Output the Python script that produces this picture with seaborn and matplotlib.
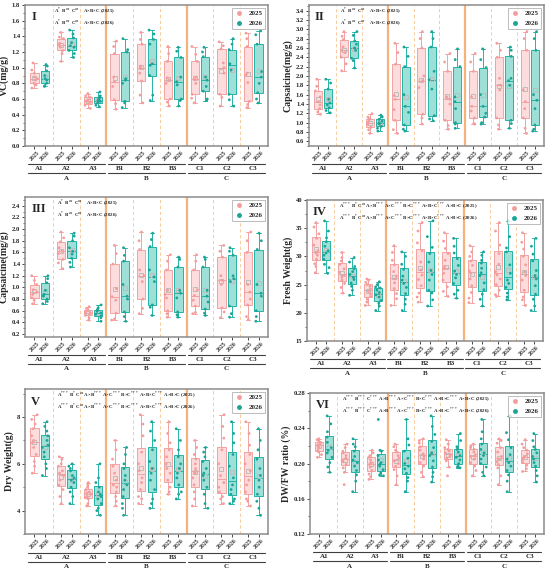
import numpy as np
import pandas as pd
import seaborn as sns
import matplotlib.pyplot as plt
from matplotlib.lines import Line2D
from matplotlib.ticker import MultipleLocator, AutoMinorLocator, FormatStrFormatter

subgroups = ['A1', 'A2', 'A3', 'B1', 'B2', 'B3', 'C1', 'C2', 'C3']
groups = ['A', 'B', 'C']
years = ['2025', '2026']

# ---- I: VC (mg/g) ----
vc_2025 = [
    [0.74, 0.78, 0.80, 0.84, 0.86, 0.88, 0.93, 0.97, 1.06],
    [1.08, 1.18, 1.22, 1.26, 1.29, 1.31, 1.37, 1.39, 1.45],
    [0.48, 0.52, 0.54, 0.56, 0.57, 0.59, 0.62, 0.64, 0.67],
    [0.47, 0.54, 0.59, 0.76, 0.82, 0.88, 1.18, 1.27, 1.34],
    [0.55, 0.65, 0.83, 0.93, 1.00, 1.02, 1.30, 1.36, 1.45],
    [0.51, 0.56, 0.60, 0.80, 0.84, 0.87, 1.08, 1.18, 1.27],
    [0.55, 0.61, 0.66, 0.80, 0.85, 0.88, 1.08, 1.17, 1.27],
    [0.51, 0.62, 0.66, 0.93, 1.00, 1.06, 1.24, 1.28, 1.33],
    [0.49, 0.53, 0.57, 0.81, 0.90, 0.93, 1.27, 1.37, 1.44],
]
vc_2026 = [
    [0.76, 0.77, 0.80, 0.84, 0.86, 0.90, 0.96, 1.02, 1.04],
    [1.13, 1.18, 1.22, 1.26, 1.28, 1.32, 1.38, 1.43, 1.48],
    [0.50, 0.52, 0.55, 0.57, 0.58, 0.60, 0.62, 0.64, 0.69],
    [0.49, 0.55, 0.57, 0.80, 0.84, 0.86, 1.20, 1.23, 1.37],
    [0.58, 0.65, 0.90, 1.03, 1.05, 1.30, 1.36, 1.43, 1.48],
    [0.51, 0.58, 0.60, 0.78, 0.82, 0.88, 1.13, 1.21, 1.26],
    [0.58, 0.60, 0.70, 0.76, 0.84, 0.88, 1.14, 1.20, 1.26],
    [0.51, 0.59, 0.66, 0.97, 1.04, 1.05, 1.23, 1.30, 1.37],
    [0.55, 0.60, 0.68, 0.80, 0.88, 0.95, 1.30, 1.42, 1.47],
]

# ---- II: Capsaicine (mg/g) ----
cap1_2025 = [
    [1.18, 1.23, 1.30, 1.38, 1.45, 1.55, 1.68, 1.78, 1.93],
    [2.11, 2.26, 2.40, 2.50, 2.55, 2.62, 2.78, 2.85, 2.95],
    [0.77, 0.85, 0.90, 0.96, 1.00, 1.03, 1.08, 1.12, 1.19],
    [0.77, 0.85, 1.05, 1.28, 1.50, 1.58, 2.25, 2.50, 2.70],
    [0.97, 1.10, 1.18, 1.75, 1.90, 2.00, 2.60, 2.80, 2.95],
    [0.86, 0.94, 1.05, 1.40, 1.50, 1.55, 2.10, 2.30, 2.48],
    [0.97, 0.98, 1.10, 1.25, 1.35, 1.55, 2.10, 2.30, 2.48],
    [0.86, 0.95, 1.10, 1.70, 1.80, 1.95, 2.40, 2.55, 2.70],
    [0.77, 0.88, 1.10, 1.30, 1.45, 1.70, 2.55, 2.80, 2.95],
]
cap1_2026 = [
    [1.21, 1.26, 1.32, 1.38, 1.42, 1.50, 1.72, 1.85, 1.93],
    [2.17, 2.33, 2.38, 2.55, 2.60, 2.68, 2.75, 2.87, 2.95],
    [0.82, 0.88, 0.92, 0.97, 1.00, 1.03, 1.07, 1.12, 1.16],
    [0.82, 0.86, 0.95, 1.22, 1.35, 1.60, 2.20, 2.42, 2.62],
    [1.04, 1.08, 1.15, 1.72, 1.92, 2.10, 2.62, 2.80, 2.95],
    [0.88, 0.97, 1.00, 1.30, 1.45, 1.55, 2.20, 2.35, 2.58],
    [0.97, 1.00, 1.12, 1.20, 1.35, 1.60, 2.18, 2.35, 2.58],
    [0.88, 0.98, 1.05, 1.80, 1.90, 1.95, 2.42, 2.55, 2.62],
    [0.82, 0.86, 0.95, 1.30, 1.48, 1.60, 2.55, 2.80, 2.95],
]

# ---- III: Capsaicine (mg/g) ----
cap2_2025 = [
    [0.72, 0.78, 0.82, 0.88, 0.92, 0.96, 1.05, 1.12, 1.20],
    [1.32, 1.42, 1.48, 1.58, 1.62, 1.68, 1.78, 1.85, 1.95],
    [0.44, 0.48, 0.52, 0.54, 0.56, 0.58, 0.61, 0.64, 0.67],
    [0.44, 0.46, 0.56, 0.78, 0.84, 0.98, 1.40, 1.58, 1.72],
    [0.55, 0.64, 0.80, 1.10, 1.20, 1.30, 1.65, 1.80, 1.95],
    [0.49, 0.55, 0.60, 0.82, 0.88, 0.95, 1.30, 1.45, 1.56],
    [0.55, 0.57, 0.68, 0.78, 0.86, 0.96, 1.30, 1.45, 1.56],
    [0.48, 0.58, 0.65, 1.05, 1.12, 1.20, 1.52, 1.62, 1.72],
    [0.45, 0.50, 0.70, 0.80, 0.92, 1.05, 1.60, 1.80, 1.95],
]
cap2_2026 = [
    [0.72, 0.76, 0.80, 0.85, 0.88, 0.95, 1.08, 1.15, 1.20],
    [1.35, 1.43, 1.50, 1.57, 1.62, 1.68, 1.80, 1.88, 1.93],
    [0.42, 0.48, 0.51, 0.54, 0.56, 0.59, 0.62, 0.65, 0.70],
    [0.42, 0.50, 0.58, 0.80, 0.85, 1.05, 1.45, 1.55, 1.68],
    [0.52, 0.66, 0.70, 1.10, 1.18, 1.30, 1.70, 1.82, 1.93],
    [0.49, 0.53, 0.58, 0.82, 0.90, 0.95, 1.35, 1.48, 1.52],
    [0.52, 0.56, 0.63, 0.75, 0.85, 0.95, 1.35, 1.48, 1.52],
    [0.49, 0.55, 0.68, 1.10, 1.15, 1.20, 1.55, 1.62, 1.68],
    [0.42, 0.50, 0.60, 0.85, 0.90, 1.05, 1.65, 1.80, 1.93],
]

# ---- IV: Fresh Weight (g) ----
fw_2025 = [
    [27.1, 28.2, 28.7, 29.5, 30.2, 30.6, 31.0, 32.0, 33.2, 34.0, 35.2, 36.0],
    [23.5, 24.5, 25.2, 25.8, 26.3, 26.6, 27.2, 27.8, 28.6, 29.2, 29.8, 30.7],
    [21.3, 21.9, 22.4, 22.9, 23.4, 23.8, 24.2, 24.7, 25.0, 25.4, 25.8, 26.0],
    [21.3, 22.5, 23.4, 24.3, 25.3, 26.0, 26.5, 27.3, 28.5, 29.3, 30.7, 31.9],
    [21.9, 22.8, 23.5, 24.8, 25.9, 26.7, 27.6, 29.0, 31.0, 32.4, 34.5, 36.0],
    [22.9, 23.8, 24.6, 25.8, 27.0, 27.8, 28.2, 29.3, 30.5, 31.4, 32.7, 34.2],
    [21.8, 22.6, 23.6, 24.8, 26.0, 27.0, 27.4, 28.4, 29.2, 30.0, 30.8, 31.9],
    [22.9, 23.2, 24.0, 25.0, 26.0, 26.7, 27.3, 28.6, 30.5, 32.0, 34.5, 36.0],
    [21.3, 22.3, 22.8, 24.0, 25.8, 26.6, 27.2, 28.5, 30.0, 31.3, 32.5, 34.2],
]
fw_2026 = [
    [27.0, 28.0, 28.6, 29.5, 30.2, 30.6, 31.0, 31.8, 32.6, 33.3, 34.5, 36.3],
    [23.1, 24.0, 24.7, 25.3, 25.9, 26.3, 26.8, 27.3, 27.8, 28.2, 29.0, 29.8],
    [20.4, 21.2, 21.7, 22.2, 22.8, 23.2, 23.6, 24.0, 24.4, 24.6, 25.0, 25.5],
    [20.4, 21.5, 22.4, 23.4, 24.5, 25.2, 25.8, 26.5, 27.7, 28.6, 30.0, 30.8],
    [21.2, 22.3, 23.5, 24.0, 25.8, 26.8, 27.5, 29.0, 30.5, 31.6, 33.5, 36.3],
    [22.6, 23.3, 24.0, 25.2, 26.2, 26.8, 27.4, 28.4, 29.6, 30.6, 31.8, 33.2],
    [21.2, 22.4, 23.3, 24.1, 25.3, 26.6, 27.1, 27.9, 28.8, 29.3, 30.2, 30.8],
    [22.3, 22.8, 23.5, 24.5, 25.2, 25.8, 27.0, 28.5, 30.8, 31.5, 33.5, 36.3],
    [20.4, 21.2, 22.4, 23.3, 24.8, 26.0, 26.6, 27.5, 29.2, 30.4, 31.8, 33.2],
]

# ---- V: Dry Weight (g) ----
dw_2025 = [
    [5.6, 5.9, 6.1, 6.4, 6.7, 6.9, 7.0, 7.2, 7.5, 7.7, 7.9, 8.1],
    [4.3, 4.6, 4.9, 5.1, 5.3, 5.5, 5.6, 5.7, 5.9, 6.0, 6.2, 6.3],
    [4.2, 4.3, 4.5, 4.55, 4.6, 4.7, 4.75, 4.8, 4.9, 5.0, 5.1, 5.2],
    [4.2, 4.4, 4.6, 4.8, 5.0, 5.1, 5.3, 5.6, 5.9, 6.2, 6.6, 7.0],
    [4.3, 4.5, 4.6, 4.9, 5.2, 5.4, 5.7, 6.0, 6.5, 7.2, 7.7, 8.1],
    [4.7, 4.8, 5.0, 5.3, 5.6, 5.8, 6.0, 6.3, 6.6, 6.9, 7.3, 7.8],
    [4.2, 4.5, 4.8, 5.1, 5.4, 5.6, 5.8, 6.0, 6.2, 6.4, 6.7, 7.0],
    [4.3, 4.5, 4.6, 4.8, 5.0, 5.2, 5.5, 6.0, 6.6, 7.1, 7.6, 8.1],
    [4.2, 4.4, 4.5, 4.8, 5.1, 5.3, 5.7, 6.0, 6.4, 6.8, 7.3, 7.8],
]
dw_2026 = [
    [5.5, 5.8, 6.0, 6.3, 6.5, 6.7, 6.8, 7.0, 7.2, 7.4, 7.6, 7.8],
    [4.3, 4.6, 4.8, 5.0, 5.2, 5.3, 5.4, 5.5, 5.7, 5.8, 5.9, 6.0],
    [3.8, 4.0, 4.1, 4.3, 4.5, 4.6, 4.7, 4.8, 5.0, 5.2, 5.4, 6.0],
    [3.8, 4.1, 4.3, 4.6, 4.9, 5.1, 5.3, 5.5, 5.8, 6.0, 6.4, 6.7],
    [4.1, 4.3, 4.5, 4.9, 5.3, 5.6, 5.8, 6.1, 6.6, 7.0, 7.4, 7.8],
    [4.5, 4.7, 4.8, 5.1, 5.4, 5.6, 5.8, 6.0, 6.3, 6.6, 7.0, 7.5],
    [4.1, 4.3, 4.7, 5.0, 5.3, 5.5, 5.6, 5.8, 6.1, 6.3, 6.5, 6.7],
    [4.3, 4.4, 4.5, 4.7, 4.9, 5.1, 5.4, 5.9, 6.4, 6.9, 7.3, 7.8],
    [3.8, 4.1, 4.4, 4.7, 5.0, 5.3, 5.5, 5.8, 6.2, 6.6, 7.0, 7.5],
]

# ---- VI: DW/FW ratio ----
ratio_2025 = [
    [0.207, 0.210, 0.213, 0.215, 0.218, 0.220, 0.221, 0.223, 0.224, 0.226, 0.227, 0.228],
    [0.176, 0.190, 0.195, 0.199, 0.202, 0.204, 0.206, 0.209, 0.212, 0.214, 0.218, 0.222],
    [0.182, 0.185, 0.188, 0.192, 0.196, 0.199, 0.201, 0.204, 0.207, 0.209, 0.212, 0.215],
    [0.176, 0.186, 0.193, 0.197, 0.200, 0.203, 0.206, 0.209, 0.213, 0.215, 0.219, 0.222],
    [0.185, 0.190, 0.197, 0.201, 0.205, 0.208, 0.211, 0.215, 0.219, 0.223, 0.226, 0.228],
    [0.186, 0.196, 0.203, 0.206, 0.208, 0.210, 0.212, 0.214, 0.216, 0.218, 0.222, 0.227],
    [0.186, 0.192, 0.197, 0.201, 0.205, 0.208, 0.210, 0.213, 0.216, 0.218, 0.220, 0.222],
    [0.176, 0.186, 0.195, 0.199, 0.202, 0.205, 0.208, 0.213, 0.218, 0.223, 0.226, 0.228],
    [0.191, 0.194, 0.198, 0.201, 0.204, 0.206, 0.208, 0.211, 0.215, 0.218, 0.222, 0.227],
]
ratio_2026 = [
    [0.190, 0.196, 0.201, 0.207, 0.212, 0.215, 0.218, 0.224, 0.230, 0.236, 0.245, 0.254],
    [0.168, 0.180, 0.187, 0.192, 0.197, 0.201, 0.204, 0.208, 0.214, 0.219, 0.222, 0.228],
    [0.186, 0.187, 0.189, 0.193, 0.197, 0.199, 0.201, 0.204, 0.209, 0.214, 0.215, 0.250],
    [0.168, 0.180, 0.184, 0.189, 0.194, 0.197, 0.200, 0.206, 0.214, 0.221, 0.228, 0.250],
    [0.179, 0.185, 0.190, 0.196, 0.203, 0.209, 0.212, 0.218, 0.225, 0.233, 0.242, 0.254],
    [0.195, 0.196, 0.197, 0.200, 0.204, 0.207, 0.209, 0.213, 0.216, 0.219, 0.226, 0.234],
    [0.186, 0.190, 0.196, 0.200, 0.205, 0.209, 0.212, 0.216, 0.222, 0.228, 0.236, 0.250],
    [0.168, 0.180, 0.187, 0.192, 0.197, 0.201, 0.205, 0.210, 0.218, 0.227, 0.235, 0.254],
    [0.179, 0.186, 0.192, 0.197, 0.201, 0.205, 0.208, 0.212, 0.216, 0.219, 0.226, 0.234],
]

note_short = ['A$^{*}$  B$^{ns}$  C$^{ns}$    A×B×C (2025)',
              'A$^{*}$  B$^{ns}$  C$^{ns}$    A×B×C (2026)']
note_fw = ['A$^{***}$ B$^{*}$ C$^{ns}$ A×B$^{***}$ A×C$^{***}$ B×C$^{***}$ A×B×C$^{***}$ A×B×C (2025)',
           'A$^{***}$ B$^{*}$ C$^{ns}$ A×B$^{***}$ A×C$^{***}$ B×C$^{***}$ A×B×C$^{***}$ A×B×C (2026)']
note_ratio = ['A$^{***}$ B$^{***}$ C$^{***}$ A×B$^{***}$ A×C$^{***}$ B×C$^{***}$ A×B×C$^{***}$ A×B×C (2025)',
              'A$^{***}$ B$^{***}$ C$^{***}$ A×B$^{***}$ A×C$^{***}$ B×C$^{***}$ A×B×C$^{***}$ A×B×C (2026)']

sns.set_theme(style='white')
plt.rcParams['font.family'] = ['Liberation Serif', 'DejaVu Serif']
plt.rcParams['font.weight'] = 'bold'
plt.rcParams['mathtext.fontset'] = 'stix'

fill = {'2025': '#FCDCDC', '2026': '#9EE0D8'}
edge = {'2025': '#F2A3A3', '2026': '#25B3A6'}
dots = {'2025': '#F59C9C', '2026': '#1BA597'}

np.random.seed(7)

fig = plt.figure(figsize=(5.5, 5.71), dpi=100)
W, H = 550, 571


def px_axes(l, t, r, b):
    return fig.add_axes([l / W, 1 - b / H, (r - l) / W, (b - t) / H])


panels = [
    ((25, 5, 268, 146), vc_2025, vc_2026, 'VC(mg/g)', 'I', (0, 1.8), 0.2, '%.1f', note_short, 0.12),
    ((309, 5, 544, 146), cap1_2025, cap1_2026, 'Capsaicine(mg/g)', 'II', (0.5, 3.52), 0.2, '%.1f', note_short, 0.13),
    ((25, 197, 268, 337), cap2_2025, cap2_2026, 'Capsaicine(mg/g)', 'III', (0.15, 2.55), 0.2, '%.1f', note_short, 0.13),
    ((307, 200, 543, 341), fw_2025, fw_2026, 'Fresh Weight(g)', 'IV', (15, 40), 5, '%d', note_fw, 0.135),
    ((25, 389, 268, 534), dw_2025, dw_2026, 'Dry Weight(g)', 'V', (3, 9.2), 2, '%d', note_fw, 0.13),
    ((310, 393, 544, 534), ratio_2025, ratio_2026, 'DW/FW ratio (%)', 'VI', (0.12, 0.28), 0.04, '%.2f', note_ratio, 0.135),
]

width = 0.78
off = width / 4

for box, d25, d26, ylab, tag, ylim, step, fmt, note, note_x in panels:
    ax = px_axes(*box)
    rows = []
    for yr, data in zip(years, [d25, d26]):
        for sg, vals in zip(subgroups, data):
            for v in vals:
                rows.append((sg, yr, v))
    df = pd.DataFrame(rows, columns=['sub', 'year', 'val'])

    for yr in years:
        part = df[df['year'] == yr]
        sns.boxplot(data=part, x='sub', y='val', hue='year', order=subgroups,
                    hue_order=years, dodge=True, width=width, gap=0.2,
                    palette=fill, saturation=1, linecolor=edge[yr], linewidth=0.7,
                    showfliers=False, showmeans=True,
                    meanprops=dict(marker='s', markerfacecolor='none',
                                   markeredgecolor='#BDBDBD', markersize=3.5,
                                   markeredgewidth=0.7),
                    legend=False, ax=ax)
        sns.stripplot(data=part, x='sub', y='val', hue='year', order=subgroups,
                      hue_order=years, dodge=True, jitter=0.22, palette=dots,
                      size=2, linewidth=0, legend=False, ax=ax)

    for i in [0, 1, 3, 4, 6, 7]:
        ax.axvline(i + 0.5, ls=(0, (4, 3)), color='#F7C48E', lw=0.6, zorder=0)
    for i in [2, 5]:
        ax.axvline(i + 0.5, ls='-', color='#F5B27A', lw=1.6, zorder=0)

    ax.set_xlim(-0.55, 8.55)
    ax.set_ylim(*ylim)
    ax.yaxis.set_major_locator(MultipleLocator(step))
    ax.yaxis.set_minor_locator(AutoMinorLocator(2))
    ax.yaxis.set_major_formatter(FormatStrFormatter(fmt))

    xt, xl = [], []
    for i in range(len(subgroups)):
        xt += [i - off, i + off]
        xl += years
    ax.set_xticks(xt)
    ax.set_xticklabels(xl, rotation=45, fontsize=4.2, fontweight='bold', color='#333333')
    ax.set_xlabel('')
    ax.set_ylabel(ylab, fontsize=7, fontweight='bold', labelpad=2)
    ax.tick_params(axis='y', labelsize=4.8, direction='out', length=2, width=0.6, left=True, pad=1.5)
    ax.tick_params(axis='y', which='minor', direction='out', length=1.2, width=0.5, left=True)
    ax.tick_params(axis='x', direction='out', length=2, width=0.6, bottom=True, pad=1)
    for lab in ax.get_yticklabels():
        lab.set_fontweight('bold')
    for sp in ax.spines.values():
        sp.set_color('#8C8C8C')
        sp.set_linewidth(1.1)

    # group / subgroup labels under the axis
    trans = ax.get_xaxis_transform()
    for g, gname in enumerate(groups):
        x0, x1 = 3 * g - 0.45, 3 * g + 2 + 0.45
        ax.plot([x0, x1], [-0.13, -0.13], transform=trans, color='#404040', lw=0.8, clip_on=False)
        ax.plot([x0, x1], [-0.195, -0.195], transform=trans, color='#404040', lw=0.8, clip_on=False)
        for s in range(3):
            ax.text(3 * g + s, -0.142, subgroups[3 * g + s], transform=trans, ha='center', va='top',
                    fontsize=5, fontweight='bold')
        ax.text(3 * g + 1, -0.21, gname, transform=trans, ha='center', va='top',
                fontsize=5, fontweight='bold')

    ax.text(0.025, 0.955, tag, transform=ax.transAxes, ha='left', va='top',
            fontsize=9, fontweight='bold')
    ax.text(note_x, 0.985, note[0], transform=ax.transAxes, ha='left', va='top', fontsize=3.5)
    ax.text(note_x, 0.905, note[1], transform=ax.transAxes, ha='left', va='top', fontsize=3.5)

    handles = [Line2D([0], [0], marker='o', ls='', markersize=2.5,
                      markerfacecolor=dots[y], markeredgecolor=dots[y]) for y in years]
    leg = ax.legend(handles, years, loc='upper right', frameon=True,
                    fancybox=False, borderpad=0.4, handlelength=1.2, labelspacing=0.6,
                    borderaxespad=0.4, prop={'weight': 'bold', 'size': 5})
    leg.get_frame().set_edgecolor('#9E9E9E')
    leg.get_frame().set_linewidth(0.6)

fig.savefig('out.png', dpi=100)
